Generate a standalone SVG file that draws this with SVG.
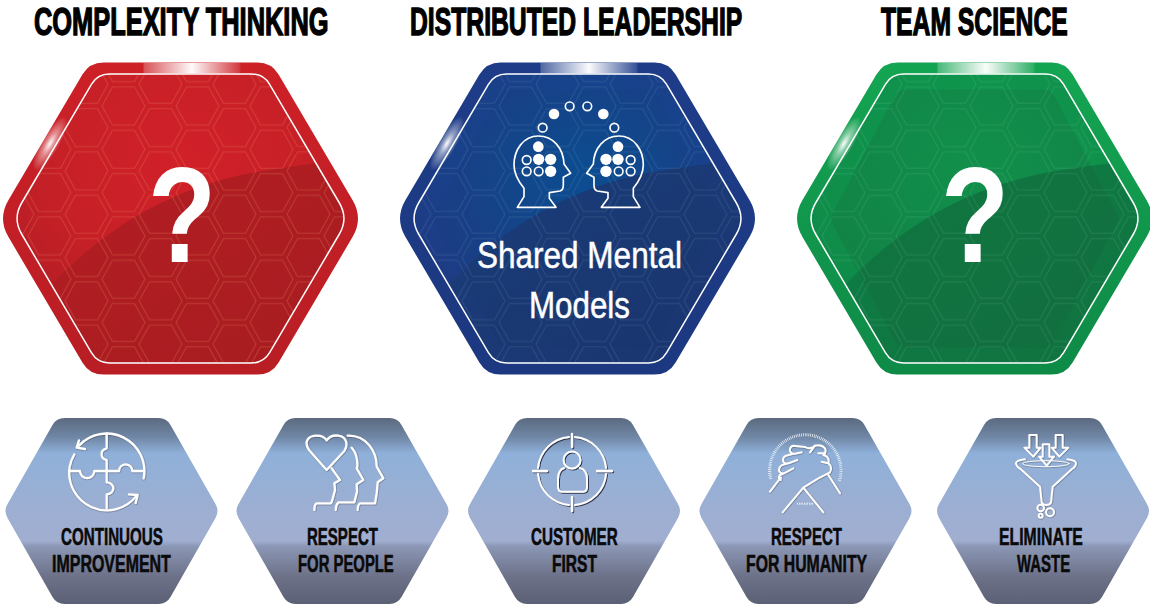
<svg xmlns="http://www.w3.org/2000/svg" width="1150" height="605" viewBox="0 0 1150 605">
<style>
text{font-family:"Liberation Sans",Arial,sans-serif}
.h{font-size:38.5px;font-weight:700;fill:#000;stroke:#000;stroke-width:1.4}
.t{font-size:24.5px;font-weight:700;fill:#0a0a0a;stroke:#0a0a0a;stroke-width:.6}
.q{font-size:136px;font-weight:700;fill:#fff;text-anchor:middle}
.s{font-size:37px;fill:#fff;stroke:#fff;stroke-width:.5}
.ln{fill:none;stroke:#fff;stroke-width:1.5}
.ic{fill:none;stroke:#fff;stroke-linecap:round;stroke-linejoin:round}
</style>
<defs>
<path id="outer" d="M-77,-156H77Q91,-156 98.1,-143.9L172,-18.6Q183,0 172,18.6L98.1,143.9Q91,156 77,156H-77Q-91,156 -98.1,143.9L-172,18.6Q-183,0 -172,-18.6L-98.1,-143.9Q-91,-156 -77,-156Z"/>
<path id="inner" d="M-71,-144.5H71Q83,-144.5 89.1,-134.2L158.9,-15.5Q168,0 158.9,15.5L89.1,134.2Q83,144.5 71,144.5H-71Q-83,144.5 -89.1,134.2L-158.9,15.5Q-168,0 -158.9,-15.5L-89.1,-134.2Q-83,-144.5 -71,-144.5Z"/>
<path id="inset" d="M-68,-129H68Q76,-129 80,-122L141,-7Q146,0 141,7L80,122Q76,129 68,129H-68Q-76,129 -80,122L-141,7Q-146,0 -141,-7L-80,-122Q-76,-129 -68,-129Z"/>
<path id="swoosh" d="M-190,125L-125,62C-70,5 0,-35 85,-48C120,-53 150,-58 175,-60V170H-190Z"/>
<path id="small" d="M-47,-93H47Q55,-93 59,-86.1L104,-6.9Q108,0 104,6.9L59,86.1Q55,93 47,93H-47Q-55,93 -59,86.1L-104,6.9Q-108,0 -104,-6.9L-59,-86.1Q-55,-93 -47,-93Z"/>
<path id="hx" d="M-21.5,0L-11,-19H11L21.5,0L11,19H-11Z"/>
<g id="tile" fill="none" stroke-width="1">
<use href="#hx" x="18.5" y="21.65"/><use href="#hx" x="92.5" y="21.65"/>
<use href="#hx" x="55.5" y="0"/><use href="#hx" x="55.5" y="43.3"/>
<use href="#hx" x="-18.5" y="0"/><use href="#hx" x="-18.5" y="43.3"/>
</g>
<clipPath id="inClip"><use href="#inner"/></clipPath>
<clipPath id="outClip"><use href="#outer"/></clipPath>
<pattern id="hexR" patternUnits="userSpaceOnUse" x="-75.5" y="-134.15" width="74" height="43.3"><use href="#tile" stroke="#e9855a" stroke-opacity=".3"/></pattern>
<pattern id="hexL" patternUnits="userSpaceOnUse" x="-75.5" y="-134.15" width="74" height="43.3"><use href="#tile" stroke="#bfe0e0" stroke-opacity=".11"/></pattern>
<linearGradient id="ringR" x1="0" y1="0" x2="0" y2="1"><stop offset="0" stop-color="#cd2027"/><stop offset="1" stop-color="#b81e24"/></linearGradient>
<linearGradient id="ringB" x1="0" y1="0" x2="0" y2="1"><stop offset="0" stop-color="#1e3c88"/><stop offset="1" stop-color="#1c3880"/></linearGradient>
<linearGradient id="ringG" x1="0" y1="0" x2="0" y2="1"><stop offset="0" stop-color="#14a552"/><stop offset="1" stop-color="#0e8a47"/></linearGradient>
<radialGradient id="inR" cx=".5" cy=".3" r=".6"><stop offset="0" stop-color="#d12029"/><stop offset=".6" stop-color="#c82027"/><stop offset="1" stop-color="#b81e25"/></radialGradient>
<radialGradient id="inB" cx=".52" cy=".36" r=".55"><stop offset="0" stop-color="#0b5096"/><stop offset="1" stop-color="#1e3b85"/></radialGradient>
<radialGradient id="inG" cx=".5" cy=".3" r=".6"><stop offset="0" stop-color="#0f9d50"/><stop offset="1" stop-color="#0f8a48"/></radialGradient>
<linearGradient id="dkR" x1="0" y1="0" x2="1" y2="1"><stop offset="0" stop-color="#b41e24"/><stop offset="1" stop-color="#a61c20"/></linearGradient>
<linearGradient id="dkB" x1="0" y1="0" x2="1" y2="1"><stop offset="0" stop-color="#1a3f7e"/><stop offset="1" stop-color="#1b346e"/></linearGradient>
<linearGradient id="dkG" x1="0" y1="0" x2="1" y2="1"><stop offset="0" stop-color="#0d8146"/><stop offset="1" stop-color="#11703f"/></linearGradient>
<linearGradient id="band" x1="0" y1="0" x2="1" y2="0"><stop offset="0" stop-color="#fff" stop-opacity=".22"/><stop offset=".5" stop-color="#fff" stop-opacity=".98"/><stop offset="1" stop-color="#fff" stop-opacity=".1"/></linearGradient>
<radialGradient id="glow"><stop offset="0" stop-color="#fff" stop-opacity=".98"/><stop offset=".4" stop-color="#fff" stop-opacity=".5"/><stop offset="1" stop-color="#fff" stop-opacity=".03"/></radialGradient>
<linearGradient id="steel" x1="0" y1="0" x2="0" y2="1">
<stop offset="0" stop-color="#5b6a80"/><stop offset=".1" stop-color="#6f86a4"/><stop offset=".19" stop-color="#8fb0d9"/><stop offset=".45" stop-color="#9bafd3"/><stop offset=".66" stop-color="#a1aed0"/><stop offset=".69" stop-color="#8b97b6"/><stop offset=".85" stop-color="#6d7289"/><stop offset="1" stop-color="#5c6075"/>
</linearGradient>
<filter id="sh" x="-10%" y="-10%" width="125%" height="125%"><feDropShadow dx="1" dy="1" stdDeviation=".35" flood-color="#1d2436" flood-opacity=".85"/></filter>
<path id="face" d="M52 352H168L148 325V308L180 303Q190 300 190 285V262L212 250L192 222C190 175 160 138 115 138C70 138 42 180 42 225C42 255 60 280 72 295V320Z"/>
</defs>

<g id="heading-complexity"><text class="h" transform="translate(34 35) scale(.66 1)">COMPLEXITY THINKING</text></g>
<g id="heading-leadership"><text class="h" transform="translate(410 35) scale(.642 1)">DISTRIBUTED LEADERSHIP</text></g>
<g id="heading-team"><text class="h" transform="translate(881 35) scale(.642 1)">TEAM SCIENCE</text></g>

<g id="hex-red" transform="translate(180.5 218.5)">
<use href="#outer" fill="url(#ringR)"/>
<use href="#inner" fill="url(#inR)"/>
<g clip-path="url(#inClip)"><use href="#swoosh" fill="url(#dkR)"/></g>
<g clip-path="url(#inClip)"><rect x="-185" y="-160" width="370" height="320" fill="url(#hexR)"/></g>
<g clip-path="url(#outClip)"><rect x="-37" y="-156" width="97" height="11" fill="url(#band)"/><ellipse cx="-130.5" cy="-75" rx="9" ry="30" transform="rotate(30 -130.5 -75)" fill="url(#glow)"/></g>
<use href="#inner" class="ln"/>
<text class="q" transform="translate(1.5 43.5) scale(.82 1)">?</text>
</g>

<g id="hex-blue" transform="translate(577.5 218.5)">
<use href="#outer" fill="url(#ringB)"/>
<use href="#inner" fill="url(#inB)"/>
<g clip-path="url(#inClip)"><use href="#swoosh" fill="url(#dkB)"/><use href="#inset" fill="#16305f" fill-opacity=".08"/></g>
<g clip-path="url(#inClip)"><rect x="-185" y="-160" width="370" height="320" fill="url(#hexL)"/></g>
<g clip-path="url(#outClip)"><rect x="-37" y="-156" width="97" height="11" fill="url(#band)"/><ellipse cx="-130.5" cy="-75" rx="9" ry="30" transform="rotate(30 -130.5 -75)" fill="url(#glow)"/></g>
<use href="#inner" class="ln"/>
<g transform="translate(-77.5 -128.5) scale(.3333)">
<g fill="none" stroke="#fff" stroke-width="5" stroke-linejoin="round"><use href="#face"/><use href="#face" transform="matrix(-1 0 0 1 472 0)"/>
<circle cx="80" cy="210" r="13"/><circle cx="80" cy="244" r="13"/><circle cx="116" cy="244" r="13"/>
<circle cx="392" cy="210" r="13"/><circle cx="392" cy="244" r="13"/><circle cx="356" cy="244" r="13"/>
<circle cx="128" cy="113" r="13"/><circle cx="209" cy="49" r="13"/><circle cx="262" cy="49" r="13"/><circle cx="343" cy="113" r="13"/></g>
<g fill="#fff"><circle cx="115" cy="170" r="16"/><circle cx="116" cy="208" r="17"/><circle cx="152" cy="208" r="17"/><circle cx="152" cy="244" r="17"/>
<circle cx="354" cy="170" r="16"/><circle cx="354" cy="208" r="17"/><circle cx="318" cy="208" r="17"/><circle cx="318" cy="244" r="17"/>
<circle cx="162" cy="72" r="16"/><circle cx="310" cy="72" r="16"/></g>
</g>
<text class="s" transform="translate(-100.5 49.5) scale(.852 1)">Shared Mental</text>
<text class="s" transform="translate(-48.5 99.5) scale(.847 1)">Models</text>
</g>

<g id="hex-green" transform="translate(974.5 218.5)">
<use href="#outer" fill="url(#ringG)"/>
<use href="#inner" fill="url(#inG)"/>
<g clip-path="url(#inClip)"><use href="#swoosh" fill="url(#dkG)"/><use href="#inset" fill="#1b5a3a" fill-opacity=".18"/></g>
<g clip-path="url(#inClip)"><rect x="-185" y="-160" width="370" height="320" fill="url(#hexL)"/></g>
<g clip-path="url(#outClip)"><rect x="-37" y="-156" width="97" height="11" fill="url(#band)"/><ellipse cx="-130.5" cy="-75" rx="9" ry="30" transform="rotate(30 -130.5 -75)" fill="url(#glow)"/></g>
<use href="#inner" class="ln"/>
<text class="q" transform="translate(.5 43.5) scale(.82 1)">?</text>
</g>

<g id="card-continuous">
<use href="#small" x="111.5" y="511" fill="url(#steel)"/>
<g filter="url(#sh)" transform="translate(55 425) scale(.3333)" class="ic" stroke-width="7">
<path d="M72 62A113 113 0 0 1 266 160M245 212A113 113 0 0 1 44 125A113 113 0 0 1 58 88"/>
<path d="M90 72L65 68L72 46M222 208L248 210L242 234"/>
<path d="M155 26V70A20 18 0 0 0 155 105V172A20 18 0 0 1 155 208V250"/>
<path d="M44 138H75A21 21 0 0 0 118 138H192A20 20 0 0 1 232 138H266"/>
</g>
<text class="t" transform="translate(61 544.5) scale(.619 1)">CONTINUOUS</text>
<text class="t" transform="translate(52 572) scale(.652 1)">IMPROVEMENT</text>
</g>

<g id="card-people">
<use href="#small" x="342.5" y="511" fill="url(#steel)"/>
<g filter="url(#sh)" transform="translate(295 425) scale(.3333)" class="ic" stroke-width="7">
<path d="M95 135L42 75C25 50 40 32 65 32C80 32 90 38 95 46C102 36 115 30 130 32C155 35 160 60 148 78Z"/>
<path d="M110 130L135 165L118 175L120 195L112 225L108 235H65Q58 238 58 255"/>
<path d="M170 68C190 90 188 125 185 130L205 165L185 178L186 200L178 232H130Q122 240 122 255"/>
<path d="M158 32C215 30 245 80 245 125L265 160L248 172L245 205L240 235H195Q188 240 188 255"/>
</g>
<text class="t" transform="translate(307 544.5) scale(.613 1)">RESPECT</text>
<text class="t" transform="translate(298 572) scale(.607 1)">FOR PEOPLE</text>
</g>

<g id="card-customer">
<use href="#small" x="574" y="511" fill="url(#steel)"/>
<g filter="url(#sh)" class="ic" stroke-width="2">
<path d="M575 437A34 34 0 0 1 606 468M606 474A34 34 0 0 1 575 505M569 505A34 34 0 0 1 538 474M538 468A34 34 0 0 1 569 437"/>
<path d="M572 434V447M572 497V511M533 471H547M597 471H612" stroke-width="2.4"/>
<circle cx="572" cy="460" r="8.5"/>
<path d="M564 468Q558 470 558 479V487Q558 491.7 562 491.7H583Q587 491.7 587 487V479Q587 470 580 468"/>
</g>
<text class="t" transform="translate(531 544.5) scale(.621 1)">CUSTOMER</text>
<text class="t" transform="translate(552 572) scale(.636 1)">FIRST</text>
</g>

<g id="card-humanity">
<use href="#small" x="805.5" y="511" fill="url(#steel)"/>
<g transform="translate(760 425) scale(.3333)" class="ic">
<path d="M32 162A107 107 0 1 1 238 168" stroke-width="9" stroke-dasharray="2 3.5" stroke-linecap="butt"/>
<path d="M112 236H160" stroke-width="6" stroke-dasharray="2 3" stroke-linecap="butt"/>
<g filter="url(#sh)" stroke-width="6">
<path d="M135 66L100 62Q88 65 90 78Q93 88 105 86L125 82M100 86L78 92Q66 98 70 110Q75 118 88 114L112 105M84 115L66 120Q54 128 58 140Q64 148 76 143L100 130M72 145L60 150Q52 160 62 165L62 158"/>
<path d="M135 66Q150 75 165 62Q185 58 195 70Q200 82 190 90Q210 95 205 115Q218 125 210 142L175 160L130 188L68 262"/>
<path d="M165 62L150 82M195 85H175M205 115L185 110"/>
<path d="M130 188L190 262M205 150L240 205M62 158L30 200"/>
</g>
</g>
<text class="t" transform="translate(771 544.5) scale(.613 1)">RESPECT</text>
<text class="t" transform="translate(746 572) scale(.645 1)">FOR HUMANITY</text>
</g>

<g id="card-waste">
<use href="#small" x="1043" y="511" fill="url(#steel)"/>
<g filter="url(#sh)" transform="translate(990 425) scale(.3333)" class="ic" stroke-width="6">
<path d="M118 30H140V68H152L130 95L103 68H118Z"/>
<path d="M197 30H218V68H235L208 95L185 68H197Z"/>
<path d="M158 58H178V95H192L170 122L147 95H158Z"/>
<path d="M105 103Q78 106 78 115Q78 125 92 132L150 185L155 232Q158 240 168 240Q180 240 183 232L188 185L246 132Q258 125 258 115Q258 106 232 103"/>
<ellipse cx="168" cy="116" rx="70" ry="9" stroke-width="3"/>
<circle cx="152" cy="249" r="10"/><circle cx="180" cy="262" r="12"/><circle cx="152" cy="272" r="6"/>
</g>
<text class="t" transform="translate(999 544.5) scale(.644 1)">ELIMINATE</text>
<text class="t" transform="translate(1017 572) scale(.61 1)">WASTE</text>
</g>
</svg>
